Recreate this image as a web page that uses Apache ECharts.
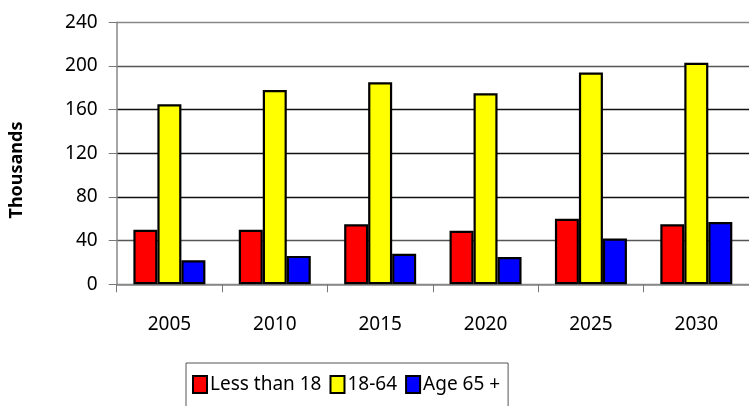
<!DOCTYPE html>
<html>
<head>
<meta charset="utf-8">
<script src="https://cdn.jsdelivr.net/npm/echarts@6/dist/echarts.min.js"></script>
<style>html,body{margin:0;padding:0;background:#fff}#c{width:749px;height:406px}</style>
</head>
<body>
<div id="c"></div>
<script>
var categories = ['2005', '2010', '2015', '2020', '2025', '2030'];
var seriesNames = ['Less than 18', '18-64', 'Age 65 +'];
var lessThan18 = [50, 50, 55, 49, 60, 55];
var age18to64 = [165, 178, 185, 175, 194, 203];
var age65plus = [22, 26, 28, 25, 42, 57];
var colors = ['#ff0000', '#ffff00', '#0000ff'];
var FONT = "'Comic Sans MS', 'Noto Sans', sans-serif";

var chart = echarts.init(document.getElementById('c'));
function mk(name, data, color) {
  return {
    name: name, type: 'bar', data: data, barWidth: 24, barGap: '0%',
    itemStyle: { color: color, borderColor: '#000', borderWidth: 2.2 },
    emphasis: { disabled: true }
  };
}
chart.setOption({
  animation: false,
  grid: { left: 116.7, top: 22.3, width: 638, height: 262 },
  xAxis: {
    type: 'category', data: categories,
    axisLine: { lineStyle: { color: '#888', width: 1.5 } },
    axisTick: { show: true, length: 8, lineStyle: { color: '#777' } },
    axisLabel: { margin: 31, fontSize: 19, color: '#000', fontFamily: FONT }
  },
  yAxis: {
    type: 'value', min: 0, max: 240, interval: 40,
    axisLine: { show: true, lineStyle: { color: '#888', width: 1.5 } },
    axisTick: { show: true, length: 8, lineStyle: { color: '#777' } },
    axisLabel: { margin: 19, fontSize: 19, color: '#000', fontFamily: FONT },
    splitLine: { show: true, lineStyle: { color: ['#888', '#555', '#111', '#111', '#111', '#555', '#888'], width: 1.3 } }
  },
  legend: {
    data: seriesNames, left: 186, top: 363, orient: 'horizontal',
    itemWidth: 14, itemHeight: 17, itemGap: 8,
    borderColor: '#555', borderWidth: 1, padding: [12, 8, 22, 6],
    textStyle: { fontSize: 19, color: '#000', fontFamily: FONT, padding: [0, 0, 0, -2] },
    icon: 'rect'
  },
  graphic: [{
    type: 'text', x: 17, y: 170, rotation: Math.PI / 2,
    style: { text: 'Thousands', font: "bold 18px 'Noto Sans', sans-serif", fill: '#000', align: 'center', verticalAlign: 'middle' }
  }],
  series: [mk(seriesNames[0], lessThan18, colors[0]), mk(seriesNames[1], age18to64, colors[1]), mk(seriesNames[2], age65plus, colors[2])]
});
</script>
</body>
</html>
